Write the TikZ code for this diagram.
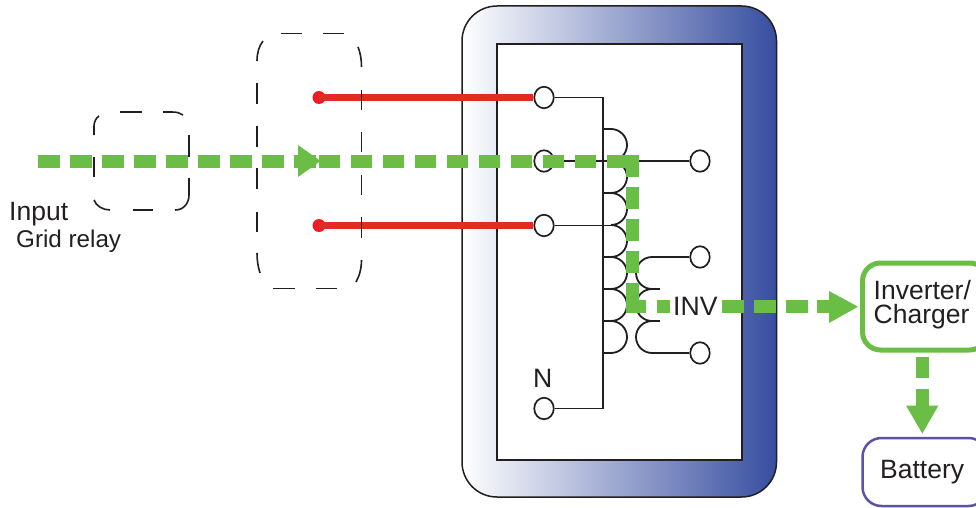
\documentclass[tikz,border=0pt]{standalone}
\usepackage{fontspec}
\setmainfont{Liberation Sans}
\usetikzlibrary{shapes.geometric}
\definecolor{flowgreen}{HTML}{6ABD45}
\definecolor{wirered}{HTML}{E32B26}
\definecolor{dotred}{HTML}{ED1C24}
\definecolor{frameblue}{HTML}{374EA0}
\definecolor{framemid}{HTML}{8C8EC3}
\definecolor{batteryblue}{HTML}{5B53A4}
\definecolor{ink}{HTML}{231F20}
\tikzset{
  terminal/.style={ellipse,draw=ink,fill=white,line width=1.7pt,minimum width=19.5pt,minimum height=21.5pt,inner sep=0pt},
  wire/.style={draw=ink,line width=1.8pt},
  relaydash/.style={draw=ink,line width=1.6pt},
  flowdash/.style={draw=flowgreen,line width=13pt,dash pattern=on 21.5pt off 10.5pt},
  flowsolid/.style={draw=flowgreen,line width=13pt,line join=miter},
  flowhead/.style={fill=flowgreen,draw=none},
  hotline/.style={draw=wirered,line width=7pt},
  label/.style={inner sep=0pt,text=ink,anchor=base west}
}
\newcommand{\sz}[1]{\fontsize{#1}{#1}\selectfont}
\begin{document}
\begin{tikzpicture}[x=1pt,y=-1pt]
\useasboundingbox (0,0) rectangle (976,508);
\clip (0,0) rectangle (976,508);
% transformer frame
\draw[ink,line width=1.5pt,rounded corners=35pt,left color=white,middle color=framemid,right color=frameblue] (462,6) rectangle (776.5,497);
\draw[ink,fill=white,line width=1.8pt] (497,44) rectangle (742,460);
% coordinates
\coordinate (busTop) at (603,97.5);
\coordinate (busBot) at (603,408.5);
% red input lines
\node[circle,fill=dotred,minimum size=13pt,inner sep=0pt] (d1) at (319,97.5) {};
\node[circle,fill=dotred,minimum size=13pt,inner sep=0pt] (d2) at (319,225.5) {};
% terminals
\node[terminal] (t1) at (544,97.5) {};
\node[terminal] (t2) at (544,161) {};
\node[terminal] (t3) at (544,225.5) {};
\node[terminal] (tn) at (544,408.5) {};
\node[terminal] (o1) at (700,161) {};
\node[terminal] (o2) at (700,257) {};
\node[terminal] (o3) at (700,353) {};
\draw[hotline] (d1.center) -- (t1.west);
\draw[hotline] (d2.center) -- (t3.west);
% wires
\draw[wire] (t1.east) -- (busTop) -- (busBot) -- (tn.east);
\draw[wire] (t2.east) -- (o1.west);
\draw[wire] (t3.east) -- (611,225.5);
\foreach \y in {129,161,193,225,257,289,321}{
  \draw[wire] (611,\y) .. controls (619.8,\y) and (627,\y+7.2) .. (627,\y+16) .. controls (627,\y+24.8) and (619.8,\y+32) .. (611,\y+32);
}
\foreach \y in {129,193,257,289,321,353}{
  \draw[wire] (603,\y) -- (611,\y);
}
% secondary winding
\draw[wire] (o2.west) -- (652,257);
\draw[wire] (o3.west) -- (652,353);
\foreach \y in {257,289,321}{
  \draw[wire] (652,\y) .. controls (643.2,\y) and (636,\y+7.2) .. (636,\y+16) .. controls (636,\y+24.8) and (643.2,\y+32) .. (652,\y+32);
}
\draw[wire] (652,289) -- (660,289);
\draw[wire] (652,321) -- (660,321);
% boxes
\node[draw=flowgreen,line width=5pt,rounded corners=18pt,minimum width=125pt,minimum height=87pt,inner sep=0pt] (inv) at (925,306.5) {};
\node[draw=batteryblue,line width=2.5pt,rounded corners=19pt,minimum width=125pt,minimum height=68pt,inner sep=0pt] (bat) at (925,472) {};
% green flow
\coordinate (inA) at (38.3,161);
\coordinate (inB) at (316,161);
\coordinate (inC) at (318.5,161);
\coordinate (c1) at (632,161);
\coordinate (c2) at (632,306.7);
\draw[flowdash] (inA) -- (inB);
\draw[flowdash] (inC) -- (600,161);
\draw[flowsolid] (606.5,161) -- (c1) -- (632,176.5);
\draw[flowdash] (632,187) -- (632,275);
\draw[flowsolid] (632,283) -- (c2) -- (646,306.7);
\draw[flowsolid] (657,306.7) -- (670,306.7);
\draw[flowdash] (722,306.7) -- (810,306.7);
\draw[flowsolid] (817,306.7) -- (830,306.7);
\fill[flowhead] (298,145) -- (320.5,161) -- (298,177) -- cycle;
\fill[flowhead] (829,291) -- (858,306.7) -- (829,323) -- cycle;
\draw[flowsolid] (922.3,357) -- (922.3,378);
\draw[flowsolid] (922.3,389) -- (922.3,406);
\fill[flowhead] (906,405.5) -- (922.3,433.5) -- (938.5,405.5) -- cycle;
% large relay box, dashed
\foreach \a/\b in {83/104,126/147,168/189,212/232}{\draw[relaydash] (257,\a) -- (257,\b);}
\foreach \a/\b in {90/110,132/152,175/195,217/238}{\draw[relaydash] (361.5,\a) -- (361.5,\b);}
\foreach \a/\b in {281/302,323/344}{\draw[relaydash] (\a,33.7) -- (\b,33.7);}
\foreach \a/\b in {273/295,316/337}{\draw[relaydash] (\a,288.5) -- (\b,288.5);}
\draw[relaydash] (257,61) .. controls (257,53) and (259,46) .. (263,41);
\draw[relaydash] (257,253) .. controls (257,260) and (258,267) .. (260,273);
\draw[relaydash] (361.5,67) .. controls (361.5,60) and (360.5,53) .. (358,47);
\draw[relaydash] (361.5,260) .. controls (361.5,268) and (359.5,276) .. (356,282);
% small relay box, dashed
\draw[relaydash] (94,157) -- (94,177);
\draw[relaydash] (94,200) .. controls (96,206) and (103,210) .. (110,210);
\draw[relaydash] (133,210) -- (153,210);
\draw[relaydash] (175,210) .. controls (184,210) and (189,203) .. (189,195) -- (189,178);
\draw[relaydash] (189,157) -- (189,135);
\draw[relaydash] (163,112) -- (172,112) .. controls (177,112) and (180,113) .. (183,115);
\draw[relaydash] (120,112) -- (142,112);
\draw[relaydash] (94,135) -- (94,126) .. controls (94,122) and (96,118) .. (99,116);
% labels
\node[label,font=\sz{26.5}] (input) at (9,220) {Input};
\node[label,font=\sz{24.2}] (grid) at (16,247) {Grid relay};
\node[label,font=\sz{26.6}] (invl) at (673,315) {INV};
\node[label,font=\sz{26.6}] (nl) at (533,387) {N};
\node[label,font=\sz{26.5}] (il1) at (873.5,299) {Inverter/};
\node[label,font=\sz{26.5}] (il2) at (873.5,323) {Charger};
\node[label,font=\sz{26.5}] (batl) at (880,478.5) {Battery};
\end{tikzpicture}
\end{document}
